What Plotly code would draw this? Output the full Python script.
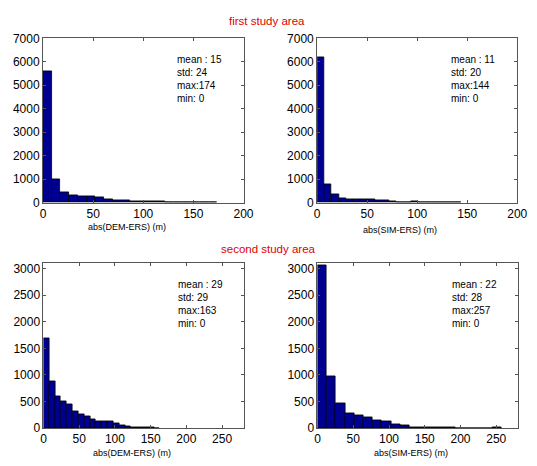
import plotly.graph_objects as go

W, H = 537, 466

# Histogram counts (20 bins each, spanning 0..max of the absolute differences)
dem_ers_1 = [5600, 1000, 420, 300, 260, 260, 230, 150, 100, 80,
             50, 70, 70, 40, 20, 15, 5, 5, 5, 20]
sim_ers_1 = [6200, 780, 350, 200, 130, 130, 160, 140, 100, 80,
             60, 30, 20, 50, 30, 20, 30, 15, 10, 5]
dem_ers_2 = [1680, 880, 600, 500, 450, 320, 260, 220, 170, 130,
             130, 130, 90, 50, 30, 12, 8, 5, 3, 2]
sim_ers_2 = [3070, 980, 470, 270, 240, 200, 150, 130, 60, 40,
             15, 8, 5, 3, 8, 0, 0, 0, 0, 10]

stats_1a = {"mean": 15, "std": 24, "max": 174, "min": 0}
stats_1b = {"mean": 11, "std": 20, "max": 144, "min": 0}
stats_2a = {"mean": 29, "std": 29, "max": 163, "min": 0}
stats_2b = {"mean": 22, "std": 28, "max": 257, "min": 0}

xlabels = ["abs(DEM-ERS) (m)", "abs(SIM-ERS) (m)",
           "abs(DEM-ERS) (m)", "abs(SIM-ERS) (m)"]
titles = ["first study area", "second study area"]

FONT = "Liberation Sans, Arial, sans-serif"
BAR = "#000090"


def px(x, y):
    return x / W, 1 - y / H


panels = [
    # counts, stats, plot box (left, top, right, bottom) px, x range, y range, x ticks, y ticks
    (dem_ers_1, stats_1a, (41, 32.3, 246.5, 201.7), [0, 200], [0, 7000],
     [0, 50, 100, 150, 200], list(range(0, 7001, 1000))),
    (sim_ers_1, stats_1b, (322, 32.3, 527, 201.7), [0, 200], [0, 7000],
     [0, 50, 100, 150, 200], list(range(0, 7001, 1000))),
    (dem_ers_2, stats_2a, (41.5, 264.3, 246.5, 434), [0, 280], [0, 3100],
     [0, 50, 100, 150, 200, 250], list(range(0, 3001, 500))),
    (sim_ers_2, stats_2b, (322.3, 264.3, 527.5, 434), [0, 280], [0, 3100],
     [0, 50, 100, 150, 200, 250], list(range(0, 3001, 500))),
]

fig = go.Figure()
annotations = []

for i, (counts, st, box, xr, yr, xt, yt) in enumerate(panels):
    n = len(counts)
    width = (st["max"] - st["min"]) / n
    centers = [st["min"] + (k + 0.5) * width for k in range(n)]
    ax = "" if i == 0 else str(i + 1)
    fig.add_trace(go.Bar(
        x=centers, y=counts, width=width,
        marker=dict(color=BAR, line=dict(color="black", width=0.8)),
        xaxis="x" + ax, yaxis="y" + ax, showlegend=False,
    ))
    l, t, r, b = box
    x0, y1 = px(l, t)
    x1, y0 = px(r, b)
    common = dict(
        showline=True, linecolor="#555555", linewidth=1, mirror="allticks",
        ticks="inside", ticklen=3, tickcolor="#555555", showgrid=False,
        zeroline=False, tickfont=dict(family=FONT, size=12, color="black"),
    )
    fig.layout["xaxis" + ax] = dict(
        domain=[x0, x1], range=xr, tickvals=xt, anchor="y" + ax, **common)
    fig.layout["yaxis" + ax] = dict(
        domain=[y0, y1], range=yr, tickvals=yt, anchor="x" + ax, **common)

    # statistics text block
    sx = l + 0.66 * (r - l)
    sy = t + 14
    txt = (f"mean : {st['mean']}<br>std: {st['std']}<br>"
           f"max:{st['max']}<br>min: {st['min']}")
    ax_, ay_ = px(sx, sy)
    annotations.append(dict(
        x=ax_, y=ay_, xref="paper", yref="paper", xanchor="left",
        yanchor="top", align="left", showarrow=False, text=txt,
        font=dict(family=FONT, size=10, color="black")))

# x-axis labels
label_pos = [(127, 226.5), (407, 229.5), (132, 460), (418, 460)]
for lab, (lx, ly) in zip(xlabels, label_pos):
    ax_, ay_ = px(lx, ly)
    annotations.append(dict(
        x=ax_, y=ay_, xref="paper", yref="paper", xanchor="center",
        yanchor="middle", showarrow=False, text=lab,
        font=dict(family=FONT, size=9, color="black")))

# section titles
for ttl, (tx, ty) in zip(titles, [(271, 14), (272, 249)]):
    ax_, ay_ = px(tx, ty)
    annotations.append(dict(
        x=ax_, y=ay_, xref="paper", yref="paper", xanchor="center",
        yanchor="middle", showarrow=False, text=ttl,
        font=dict(family=FONT, size=11.5, color="#e00000")))

fig.update_layout(
    width=W, height=H, margin=dict(l=0, r=0, t=0, b=0),
    paper_bgcolor="white", plot_bgcolor="white",
    bargap=0, annotations=annotations,
)

fig.write_html("out.html")
